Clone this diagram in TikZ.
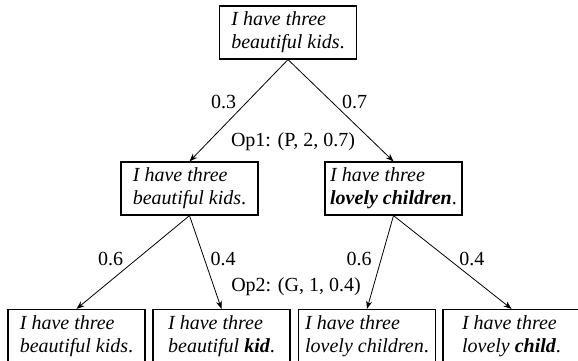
\documentclass[tikz,border=0pt]{standalone}
\usepackage{fontspec}
\setmainfont{Liberation Serif}
\usetikzlibrary{arrows.meta}

\begin{document}
\begin{tikzpicture}[x=.5pt, y=.5pt, line width=.4pt,
    sent/.style={draw=black, line width=.6pt, minimum width=68.5pt, minimum height=26.5pt,
        inner sep=1pt, align=left, font=\fontsize{10}{11.5}\selectfont\itshape},
    prob/.style={font=\fontsize{10}{12}\selectfont, inner sep=1pt},
    link/.style={-{Stealth[length=4pt, width=3pt]}}]
    \useasboundingbox (0,0) rectangle (578,360);
    \clip (0,0) rectangle (578,360);

    % sentences
    \node[sent] (top)  at (288,327.5) {I have three\\beautiful kids\textup{.}};
    \node[sent] (midl) at (189.5,171.5) {I have three\\beautiful kids\textup{.}};
    \node[sent] (midr) at (393.5,171.5) {I have three\\\textbf{lovely children}\textup{.}};
    \node[sent] (bot1) at (76.5,24) {I have three\\beautiful kids\textup{.}};
    \node[sent] (bot2) at (221.5,24) {I have three\\beautiful \textbf{kid}\textup{.}};
    \node[sent] (bot3) at (367,24) {I have three\\lovely children\textup{.}};
    \node[sent] (bot4) at (511.5,24) {I have three\\lovely \textbf{child}\textup{.}};

    % operations
    \node[prob] (op1) at (293,218) {Op1: (P, 2, 0.7)};
    \node[prob] (op2) at (296,73) {Op2: (G, 1, 0.4)};

    \draw[link] (top.south) -- node[prob, pos=.42, left=4pt] {0.3} (midl.north);
    \draw[link] (top.south) -- node[prob, pos=.42, right=3.7pt] {0.7} (midr.north);
    \draw[link] (midl.south) -- node[prob, pos=.46, left=6pt] {0.6} (bot1.north);
    \draw[link] (midl.south) -- node[prob, pos=.46, right=2pt] {0.4} (bot2.north);
    \draw[link] (midr.south) -- node[prob, pos=.46, left=3.6pt] {0.6} (bot3.north);
    \draw[link] (midr.south) -- node[prob, pos=.46, right=4.6pt] {0.4} (bot4.north);
\end{tikzpicture}
\end{document}
